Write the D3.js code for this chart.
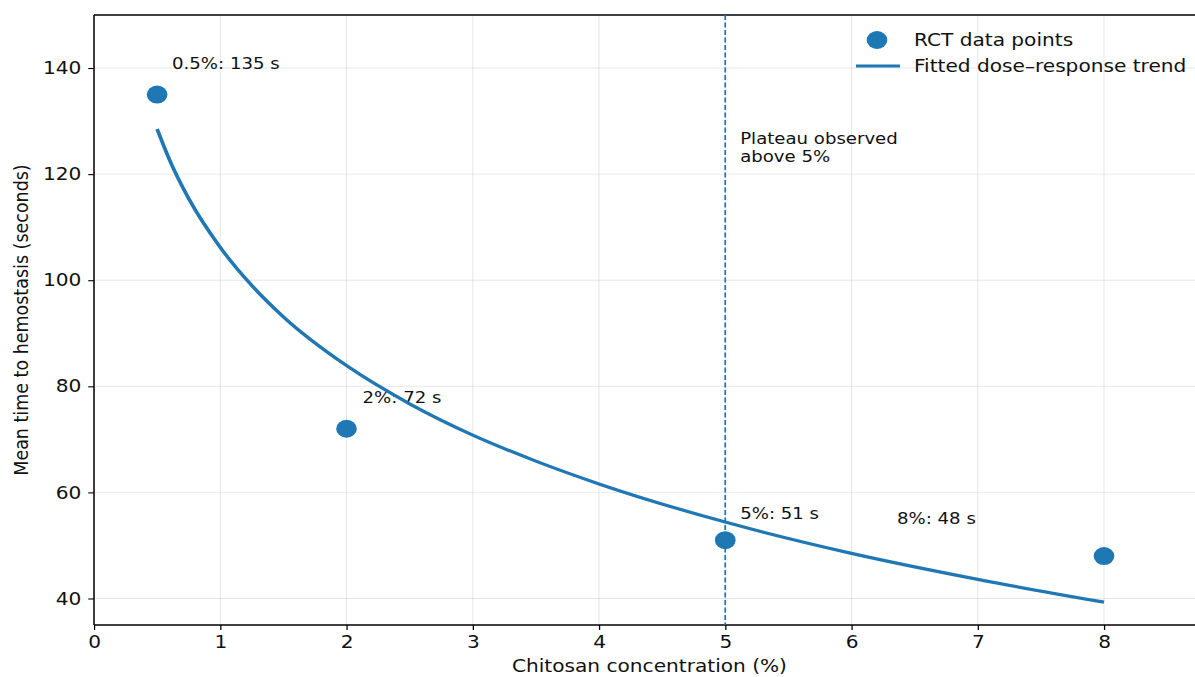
<!DOCTYPE html>
<html>
<head>
<meta charset="utf-8">
<script src="https://cdn.jsdelivr.net/npm/d3@7"></script>
<style>
  html, body { margin: 0; padding: 0; background: #fff; }
  svg { display: block; }
  text { font-family: "DejaVu Sans", sans-serif; fill: #111; }
</style>
</head>
<body>
<div id="chart"></div>
<script>
// RCT data points (concentration %, mean time s)
const concentrations = [0.5, 2, 5, 8];
const meanTimes = [135, 72, 51, 48];

// fitted trend
const trendX = [0.5, 0.6, 0.75, 1, 1.25, 1.5, 2, 2.5, 3, 3.5, 4, 5, 6, 7, 8];
const trendY = [128.5, 122.6, 115.4, 106.2, 99.0, 93.1, 83.9, 76.7, 70.8, 65.9, 61.6, 54.4, 48.5, 43.6, 39.3];

const xTicks = [0, 1, 2, 3, 4, 5, 6, 7, 8];
const yTicks = [40, 60, 80, 100, 120, 140];
const plateauAt = 5;
const plateauText = ['Plateau observed', 'above 5%'];
const legendLabels = ['RCT data points', 'Fitted dose\u2013response trend'];

const blue = '#1f77b4';
const SX = 1.15; // the reference is stretched horizontally
const W = 1195, H = 677;
const VW = W / SX;

const svg = d3.select('#chart').append('svg')
    .attr('width', W).attr('height', H)
    .attr('viewBox', `0 0 ${VW} ${H}`)
    .attr('preserveAspectRatio', 'none');

const pLeft = 94 / SX, pTop = 15, pBottom = 625;
const x = d3.scaleLinear().domain([0, 8.75]).range([pLeft, pLeft + 8.75 * 126.25 / SX]);
const y = d3.scaleLinear().domain([35, 150]).range([pBottom, pTop]);

// grid
const grid = svg.append('g');
grid.selectAll('.gx').data(xTicks).join('line')
    .attr('x1', d => x(d)).attr('x2', d => x(d)).attr('y1', pTop).attr('y2', pBottom)
    .attr('stroke', '#b0b0b0').attr('stroke-opacity', 0.3).attr('stroke-width', 0.9);
grid.selectAll('.gy').data(yTicks).join('line')
    .attr('x1', pLeft).attr('x2', VW + 10).attr('y1', d => y(d)).attr('y2', d => y(d))
    .attr('stroke', '#b0b0b0').attr('stroke-opacity', 0.3).attr('stroke-width', 0.9);

// axes
const xAxis = svg.append('g').attr('transform', `translate(0,${pBottom})`)
    .call(d3.axisBottom(x).tickValues(xTicks).tickFormat(d3.format('d')).tickSizeOuter(0).tickSize(5).tickPadding(6));
const yAxis = svg.append('g').attr('transform', `translate(${pLeft},0)`)
    .call(d3.axisLeft(y).tickValues(yTicks).tickSizeOuter(0).tickSize(5).tickPadding(6));
[xAxis, yAxis].forEach(a => {
    a.select('.domain').remove();
    a.selectAll('line').attr('stroke', '#000').attr('stroke-width', 1.1);
    a.selectAll('text').style('font-size', '17.5px').style('font-family', '"DejaVu Sans", sans-serif').attr('fill', '#111');
});

// spines
svg.append('line').attr('x1', pLeft).attr('x2', pLeft).attr('y1', pTop).attr('y2', pBottom).attr('stroke', '#000').attr('stroke-width', 1.3);
svg.append('line').attr('x1', pLeft).attr('x2', VW + 10).attr('y1', pBottom).attr('y2', pBottom).attr('stroke', '#000').attr('stroke-width', 1.3);
svg.append('line').attr('x1', pLeft).attr('x2', VW + 10).attr('y1', pTop).attr('y2', pTop).attr('stroke', '#000').attr('stroke-width', 1.3);

// plateau line
svg.append('line')
    .attr('x1', x(plateauAt)).attr('x2', x(plateauAt)).attr('y1', pTop).attr('y2', pBottom)
    .attr('stroke', blue).attr('stroke-width', 1.5).attr('stroke-dasharray', '5,2.5');

const plateau = svg.append('text').attr('x', x(plateauAt) + 13).attr('y', 144).style('font-size', '15.75px');
plateauText.forEach((t, i) => plateau.append('tspan').attr('x', x(plateauAt) + 13).attr('dy', i ? 18 : 0).text(t));

// point labels
const labelOffsets = [[13, -26], [14, -26], [13, -21], [-180, -32]];
svg.selectAll('.plabel').data(concentrations).join('text')
    .attr('x', (d, i) => x(d) + labelOffsets[i][0])
    .attr('y', (d, i) => y(meanTimes[i]) + labelOffsets[i][1])
    .style('font-size', '15.75px')
    .text((d, i) => `${d}%: ${meanTimes[i]} s`);

// trend line
svg.append('path')
    .datum(trendX.map((d, i) => [d, trendY[i]]))
    .attr('d', d3.line().x(d => x(d[0])).y(d => y(d[1])).curve(d3.curveMonotoneX))
    .attr('fill', 'none').attr('stroke', blue).attr('stroke-width', 3.2);

// points
svg.selectAll('.pt').data(concentrations).join('circle')
    .attr('cx', d => x(d)).attr('cy', (d, i) => y(meanTimes[i])).attr('r', 9)
    .attr('fill', blue);

// legend
const lg = svg.append('g');
lg.append('circle').attr('cx', 877 / SX).attr('cy', 40).attr('r', 9).attr('fill', blue);
lg.append('line').attr('x1', 856 / SX).attr('x2', 900 / SX).attr('y1', 66).attr('y2', 66)
    .attr('stroke', blue).attr('stroke-width', 3.2);
legendLabels.forEach((t, i) => lg.append('text')
    .attr('x', 914 / SX).attr('y', 40 + i * 26).attr('dy', '0.35em')
    .style('font-size', '17.5px').text(t));

// axis titles
svg.append('text').attr('x', 649.5 / SX).attr('y', 672).attr('text-anchor', 'middle')
    .style('font-size', '17.5px').text('Chitosan concentration (%)');
svg.append('text').attr('transform', `translate(${28 / SX},${(pTop + pBottom) / 2}) rotate(-90)`)
    .attr('text-anchor', 'middle').style('font-size', '17.5px').text('Mean time to hemostasis (seconds)');
</script>
</body>
</html>
